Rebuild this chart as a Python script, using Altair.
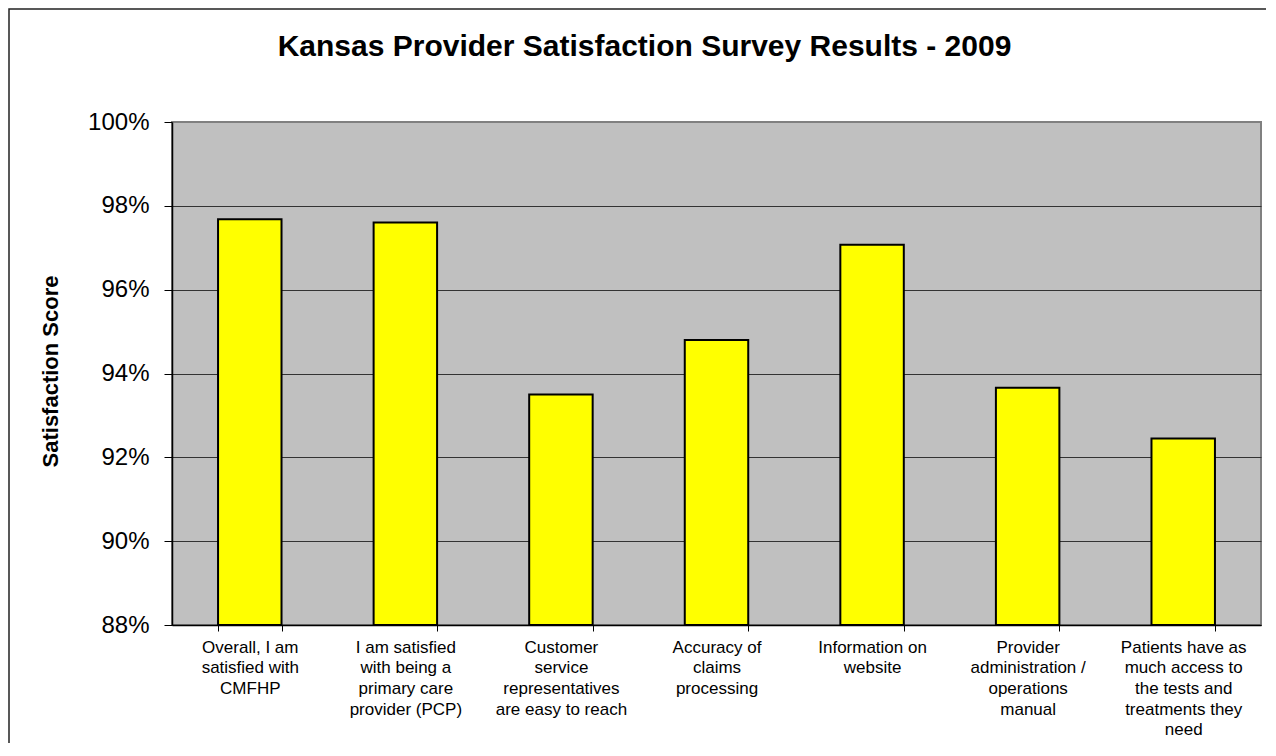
import altair as alt
import pandas as pd

categories = [
    "Overall, I am|satisfied with|CMFHP",
    "I am satisfied|with being a|primary care|provider (PCP)",
    "Customer|service|representatives|are easy to reach",
    "Accuracy of|claims|processing",
    "Information on|website",
    "Provider|administration /|operations|manual",
    "Patients have as|much access to|the tests and|treatments they|need",
]
scores = [0.9768, 0.9760, 0.9350, 0.9480, 0.9707, 0.9366, 0.9245]
y_ticks = [0.88, 0.90, 0.92, 0.94, 0.96, 0.98, 1.00]

FONT = "Liberation Sans"
W, H = 1089, 503

df = pd.DataFrame({"cat": categories, "score": scores})

bars = alt.Chart(df).mark_bar(
    color="#FFFF00", stroke="#000000", strokeWidth=2
).encode(
    x=alt.X(
        "cat:N",
        sort=None,
        scale=alt.Scale(paddingInner=0.592, paddingOuter=0.296),
        axis=alt.Axis(
            title=None,
            labelAngle=0,
            labelExpr="split(datum.label, '|')",
            labelFont=FONT,
            labelFontSize=17,
            labelColor="#000000",
            labelLineHeight=20.7,
            labelPadding=8,
            labelLimit=300,
            tickBand="extent",
            tickSize=6,
            tickColor="#000000",
            tickWidth=1,
            domainColor="#000000",
            domainWidth=1.5,
            grid=False,
        ),
    ),
    y=alt.Y(
        "score:Q",
        scale=alt.Scale(domain=[0.88, 1.0], zero=False, nice=False),
        axis=alt.Axis(
            title="Satisfaction Score",
            titleFont=FONT,
            titleFontSize=22,
            titleFontWeight="bold",
            titleColor="#000000",
            titleAngle=270,
            titleX=-122,
            titleY=249,
            titleAlign="center",
            titleBaseline="middle",
            values=y_ticks,
            format=".0%",
            labelFont=FONT,
            labelFontSize=24,
            labelColor="#000000",
            labelPadding=15,
            tickSize=8,
            tickColor="#000000",
            domainColor="#000000",
            domainWidth=1.5,
            grid=True,
            gridColor={"condition": {"test": "datum.value >= 0.999", "value": "#808080"}, "value": "#333333"},
            gridWidth=1,
        ),
    ),
    y2=alt.datum(0.88),
)

border = alt.Chart(pd.DataFrame({"a": [0]})).mark_rect(
    fillOpacity=0, stroke="#222222", strokeWidth=1.5
).encode(
    x=alt.value(-163), y=alt.value(-113), x2=alt.value(W + 300), y2=alt.value(H + 300)
)

chart = alt.layer(border, bars).properties(
    width=W,
    height=H,
    title=alt.TitleParams(
        "Kansas Provider Satisfaction Survey Results - 2009",
        font=FONT,
        fontSize=30,
        fontWeight="bold",
        color="#000000",
        anchor="middle",
        dx=-72,
        baseline="alphabetic",
        offset=-78,
    ),
    autosize=alt.AutoSizeParams(type="none"),
    padding={"left": 164, "top": 114, "right": 5, "bottom": 118},
    background="#FFFFFF",
).configure_view(
    fill="#C0C0C0", stroke="#808080", strokeWidth=2
)

chart.save("out.html", embed_options={"renderer": "svg", "actions": False})
